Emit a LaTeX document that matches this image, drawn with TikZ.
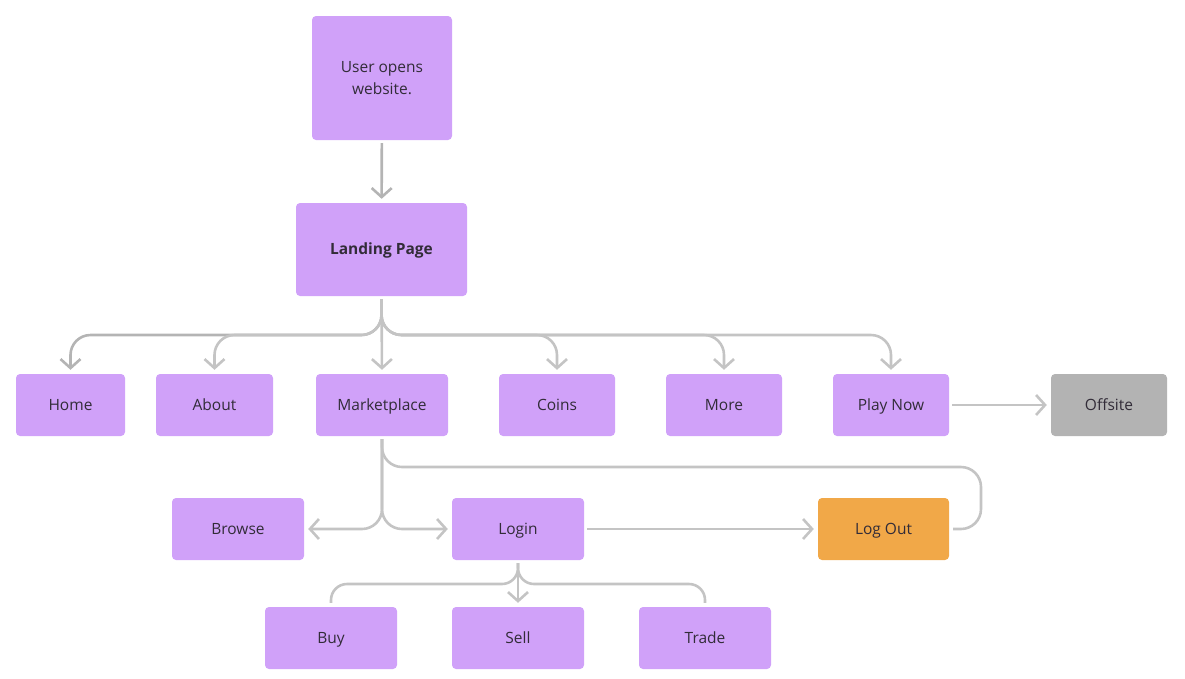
\documentclass[tikz,border=0pt]{standalone}
\usepackage{fontspec}
\setmainfont{Open Sans}
\usetikzlibrary{arrows.meta}
\definecolor{boxpurple}{RGB}{208,161,249}
\definecolor{boxgray}{RGB}{179,179,179}
\definecolor{boxorange}{RGB}{241,168,72}
\definecolor{linegray}{RGB}{196,196,196}
\definecolor{linedark}{RGB}{180,180,180}
\definecolor{txt}{RGB}{50,44,56}
\tikzset{
  x=1pt, y=-1pt,
  box/.style={draw=none, fill=boxpurple, rounded corners=4pt, inner sep=0pt,
    text=txt, font=\fontsize{15.5}{22}\selectfont, align=center},
  one/.style={text height=2.3ex, text depth=0.3ex},
  conn/.style={draw=linegray, line width=2.6pt, rounded corners=20pt,
    shorten <=3pt, shorten >=4pt},
  tip/.style={-{Straight Barb[length=9pt,width=20pt,line width=2.6pt]}}
}
\begin{document}
\begin{tikzpicture}
\useasboundingbox (0,0) rectangle (1185,678);
% nodes
\node[box, minimum width=140pt, minimum height=124pt] (user) at (382,78) {User opens\\website.};
\node[box, one, minimum width=171pt, minimum height=93pt, font=\fontsize{15.5}{22}\selectfont\bfseries] (landing) at (381.5,249.5) {Landing Page};
\node[box, one, minimum width=109pt, minimum height=62pt] (home) at (70.5,405) {Home};
\node[box, one, minimum width=117pt, minimum height=62pt] (about) at (214.5,405) {About};
\node[box, one, minimum width=132pt, minimum height=62pt] (market) at (382,405) {Marketplace};
\node[box, one, minimum width=116pt, minimum height=62pt] (coins) at (557,405) {Coins};
\node[box, one, minimum width=116pt, minimum height=62pt] (more) at (724,405) {More};
\node[box, one, minimum width=116pt, minimum height=62pt] (play) at (891,405) {Play Now};
\node[box, one, fill=boxgray, minimum width=116pt, minimum height=62pt] (offsite) at (1109,405) {Offsite};
\node[box, one, minimum width=132pt, minimum height=62pt] (browse) at (238,529) {Browse};
\node[box, one, minimum width=132pt, minimum height=62pt] (login) at (518,529) {Login};
\node[box, one, fill=boxorange, minimum width=131pt, minimum height=62pt] (logout) at (883.5,529) {Log Out};
\node[box, one, minimum width=132pt, minimum height=62pt] (buy) at (331,638) {Buy};
\node[box, one, minimum width=132pt, minimum height=62pt] (sell) at (518,638) {Sell};
\node[box, one, minimum width=132pt, minimum height=62pt] (trade) at (705,638) {Trade};
% helper coordinates
\coordinate (bus) at (382,335);
\coordinate (loop) at (981,467);
\coordinate (lbus) at (518,584);
% connectors
\draw[conn, tip, draw=linedark] (user) -- (landing);
\draw[conn, tip, draw=linedark] (landing.south) -- (landing.south |- bus) -- (home.north |- bus) -- (home.north);
\draw[conn, tip] (landing.south) -- (landing.south |- bus) -- (about.north |- bus) -- (about.north);
\draw[conn, tip] (landing.south) -- (market.north);
\draw[conn, tip] (landing.south) -- (landing.south |- bus) -- (coins.north |- bus) -- (coins.north);
\draw[conn, tip] (landing.south) -- (landing.south |- bus) -- (more.north |- bus) -- (more.north);
\draw[conn, tip] (landing.south) -- (landing.south |- bus) -- (play.north |- bus) -- (play.north);
\draw[conn, tip] (play) -- (offsite);
\draw[conn, tip] (market.south) |- (browse.east);
\draw[conn, tip] (market.south) |- (login.west);
\draw[conn] (market.south) |- (loop) -- (loop |- logout.east) -- (logout.east);
\draw[conn, tip] (login) -- (logout);
\draw[conn, rounded corners=16pt] (login.south) -- (lbus) -- (buy.north |- lbus) -- (buy.north);
\draw[conn, tip] (login) -- (sell);
\draw[conn, rounded corners=16pt] (login.south) -- (lbus) -- (trade.north |- lbus) -- (trade.north);
\end{tikzpicture}
\end{document}
